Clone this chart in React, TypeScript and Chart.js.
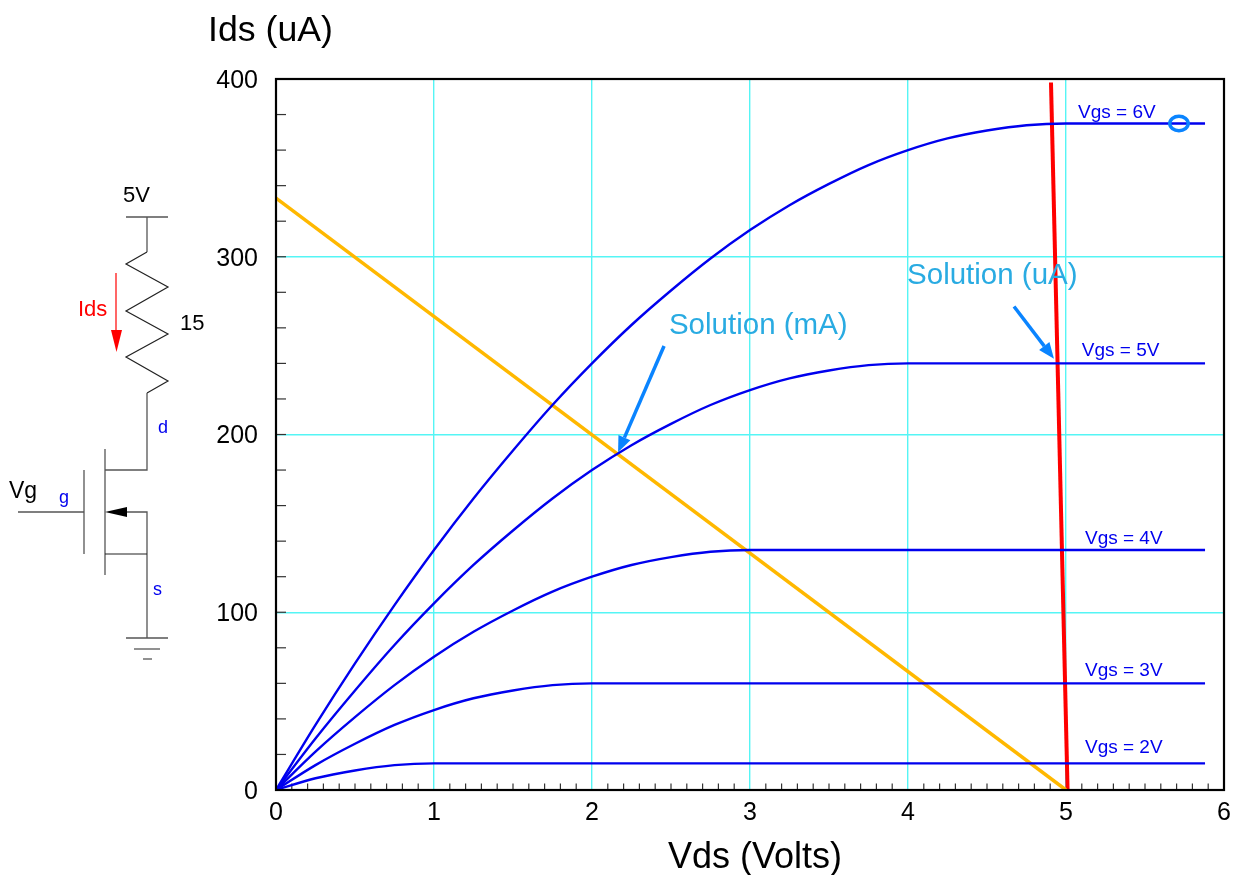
import React, { useEffect, useRef } from "react";
import { Chart, registerables } from "chart.js";

Chart.register(...registerables);

const FONT = '"Liberation Sans", Arial, sans-serif';

// Curves (Vds in volts, Ids in uA)
const vds6 = [0, 0.25, 0.5, 0.75, 1, 1.25, 1.5, 1.75, 2, 2.25, 2.5, 2.75, 3, 3.25, 3.5, 3.75, 4, 4.25, 4.5, 4.75, 5, 5.88];
const ids6 = [0, 36.6, 71.2, 104, 135, 164, 191, 216.6, 240, 261.6, 281, 299, 315, 329, 341, 351.6, 360, 366.6, 371, 374, 375, 375];
const vds5 = [0, 0.25, 0.5, 0.75, 1, 1.25, 1.5, 1.75, 2, 2.25, 2.5, 2.75, 3, 3.25, 3.5, 3.75, 4, 5.88];
const ids5 = [0, 29, 56, 81.6, 105, 126.6, 146, 164, 180, 194, 206, 216.6, 225, 231.6, 236, 239, 240, 240];
const vds4 = [0, 0.25, 0.5, 0.75, 1, 1.25, 1.5, 1.75, 2, 2.25, 2.5, 2.75, 3, 5.88];
const ids4 = [0, 21.6, 41, 59, 75, 89, 101, 111.6, 120, 126.6, 131, 134, 135, 135];
const vds3 = [0, 0.25, 0.5, 0.75, 1, 1.25, 1.5, 1.75, 2, 5.88];
const ids3 = [0, 14, 26, 36.6, 45, 51.6, 56, 59, 60, 60];
const vds2 = [0, 0.25, 0.5, 0.75, 1, 5.88];
const ids2 = [0, 6.6, 11, 14, 15, 15];

// Load lines
const loadMaX = [0, 5];
const loadMaY = [333, 0];
const loadUaX = [4.905, 5.01];
const loadUaY = [398, 0];

// Marker on the Vgs = 6V curve
const markerX = 5.715;
const markerY = 375;

// Annotations, in data units
const curveLabels = ["Vgs = 6V", "Vgs = 5V", "Vgs = 4V", "Vgs = 3V", "Vgs = 2V"];
const curveLabelX = [5.076, 5.1, 5.12, 5.12, 5.12];
const curveLabelY = [378, 244, 138.4, 64, 20.8];
const solutionLabels = ["Solution (mA)", "Solution (uA)"];
const solutionLabelX = [2.487, 3.994];
const solutionLabelY = [256.5, 284.7];
const arrowFromX = [2.456, 4.671];
const arrowFromY = [249.8, 272];
const arrowToX = [2.165, 4.924];
const arrowToY = [190, 242.6];

const xTickMajor = [0, 1, 2, 3, 4, 5, 6];
const yTickMajor = [0, 100, 200, 300, 400];

const zip = (xs: number[], ys: number[]) => xs.map((x, i) => ({ x, y: ys[i] }));
const isIn = (list: number[], v: number) => list.some((m) => Math.abs(m - v) < 1e-6);

const blue = "#0000ee";
const cyan = "#55f5f5";
const sky = "#29abe2";
const arrowBlue = "#0a84ff";

function poly(ctx: CanvasRenderingContext2D, pts: number[][], color = "#555555", width = 1.3) {
  ctx.strokeStyle = color;
  ctx.lineWidth = width;
  ctx.beginPath();
  pts.forEach(([x, y], i) => (i ? ctx.lineTo(x, y) : ctx.moveTo(x, y)));
  ctx.stroke();
}

function fillPoly(ctx: CanvasRenderingContext2D, pts: number[][], color: string) {
  ctx.fillStyle = color;
  ctx.beginPath();
  pts.forEach(([x, y], i) => (i ? ctx.lineTo(x, y) : ctx.moveTo(x, y)));
  ctx.closePath();
  ctx.fill();
}

function text(ctx: CanvasRenderingContext2D, s: string, x: number, y: number, size: number, color = "#000000", align: CanvasTextAlign = "left") {
  ctx.font = `${size}px ${FONT}`;
  ctx.fillStyle = color;
  ctx.textAlign = align;
  ctx.textBaseline = "alphabetic";
  ctx.fillText(s, x, y);
}

const framePlugin = {
  id: "frame",
  beforeDatasetsDraw(chart: any) {
    const { ctx, chartArea: a, scales } = chart;
    ctx.save();
    // inward tick marks
    scales.x.ticks.forEach((t: any) => {
      const px = scales.x.getPixelForValue(t.value);
      if (!isIn(xTickMajor, t.value)) poly(ctx, [[px, a.bottom], [px, a.bottom - 6.5]], "#333333", 1.2);
    });
    scales.y.ticks.forEach((t: any) => {
      const py = scales.y.getPixelForValue(t.value);
      poly(ctx, [[a.left, py], [a.left + 10, py]], "#333333", 1.2);
    });
    ctx.restore();
  },
  afterDatasetsDraw(chart: any) {
    const { ctx, chartArea: a, scales } = chart;
    const X = (v: number) => scales.x.getPixelForValue(v);
    const Y = (v: number) => scales.y.getPixelForValue(v);
    ctx.save();
    ctx.strokeStyle = "#000000";
    ctx.lineWidth = 2.2;
    ctx.strokeRect(a.left, a.top, a.right - a.left, a.bottom - a.top);

    // marker ring
    ctx.strokeStyle = arrowBlue;
    ctx.lineWidth = 3.5;
    ctx.beginPath();
    ctx.ellipse(X(markerX), Y(markerY), 9.2, 7.2, 0, 0, Math.PI * 2);
    ctx.stroke();

    curveLabels.forEach((s, i) => text(ctx, s, X(curveLabelX[i]), Y(curveLabelY[i]), 19, blue));
    solutionLabels.forEach((s, i) => text(ctx, s, X(solutionLabelX[i]), Y(solutionLabelY[i]), 29.5, sky));

    arrowFromX.forEach((_, i) => {
      const x0 = X(arrowFromX[i]), y0 = Y(arrowFromY[i]), x1 = X(arrowToX[i]), y1 = Y(arrowToY[i]);
      const ang = Math.atan2(y1 - y0, x1 - x0);
      const bx = x1 - 16 * Math.cos(ang), by = y1 - 16 * Math.sin(ang);
      poly(ctx, [[x0, y0], [bx, by]], arrowBlue, 3.5);
      fillPoly(ctx, [
        [x1, y1],
        [bx - 6.5 * Math.sin(ang), by + 6.5 * Math.cos(ang)],
        [bx + 6.5 * Math.sin(ang), by - 6.5 * Math.cos(ang)],
      ], arrowBlue);
    });

    // axis titles
    text(ctx, "Ids (uA)", 208, 41, 35.7);
    text(ctx, "Vds (Volts)", 668, 868, 36);

    // circuit schematic
    poly(ctx, [[126, 217], [168, 217]]);
    poly(ctx, [[147, 217], [147, 252]]);
    poly(ctx, [[147, 252], [126, 264], [168, 287], [126, 311], [168, 334], [126, 357], [168, 381], [147, 393]], "#222222", 1.2);
    poly(ctx, [[147, 393], [147, 470], [105, 470]]);
    poly(ctx, [[105, 449], [105, 575]]);
    poly(ctx, [[84, 470], [84, 554]]);
    poly(ctx, [[18, 512], [84, 512]]);
    poly(ctx, [[127, 512], [147, 512], [147, 638]]);
    poly(ctx, [[105, 554], [147, 554]], "#222222", 1.2);
    fillPoly(ctx, [[105, 512], [127, 507], [127, 517]], "#000000");
    poly(ctx, [[126, 638], [168, 638]]);
    poly(ctx, [[134, 649], [160, 649]]);
    poly(ctx, [[143, 659], [152, 659]]);
    poly(ctx, [[116, 273], [116, 332]], "#ff0000", 1.2);
    fillPoly(ctx, [[111, 330], [122, 330], [116.5, 352]], "#ff0000");
    text(ctx, "5V", 123, 202, 22);
    text(ctx, "15", 180, 330, 22);
    text(ctx, "Ids", 78, 316, 22, "#ff0000");
    text(ctx, "Vg", 9, 498, 23);
    text(ctx, "d", 158, 433, 18, blue);
    text(ctx, "g", 59, 503, 18, blue);
    text(ctx, "s", 153, 595, 18, blue);
    ctx.restore();
  },
};

export default function App() {
  const ref = useRef<HTMLCanvasElement | null>(null);
  useEffect(() => {
    const curve = (xs: number[], ys: number[], label: string) => ({
      label,
      data: zip(xs, ys),
      borderColor: blue,
      borderWidth: 2.4,
      pointRadius: 0,
      cubicInterpolationMode: "monotone" as const,
    });
    const chart = new Chart(ref.current as HTMLCanvasElement, {
      type: "line",
      data: {
        datasets: [
          curve(vds6, ids6, curveLabels[0]),
          curve(vds5, ids5, curveLabels[1]),
          curve(vds4, ids4, curveLabels[2]),
          curve(vds3, ids3, curveLabels[3]),
          curve(vds2, ids2, curveLabels[4]),
          { label: "Load line (mA)", data: zip(loadMaX, loadMaY), borderColor: "#ffb800", borderWidth: 3.5, pointRadius: 0 },
          { label: "Load line (uA)", data: zip(loadUaX, loadUaY), borderColor: "#ff0000", borderWidth: 4, pointRadius: 0 },
        ],
      },
      options: {
        responsive: false,
        animation: false,
        layout: { padding: { left: 0, top: 79, right: 9, bottom: 0 } },
        plugins: { legend: { display: false }, title: { display: false }, tooltip: { enabled: false } },
        scales: {
          x: {
            type: "linear",
            min: 0,
            max: 6,
            afterFit: (s: any) => { s.height = 85; s.paddingRight = 0; s.paddingLeft = 0; },
            border: { display: false },
            grid: {
              drawTicks: false,
              color: (c: any) => (isIn(xTickMajor, c.tick?.value) ? cyan : "rgba(0,0,0,0)"),
              lineWidth: 1.4,
            },
            ticks: {
              stepSize: 0.1,
              autoSkip: false,
              maxRotation: 0,
              padding: 8,
              color: "#000000",
              font: { family: FONT, size: 25 },
              callback: (v: any) => (isIn(xTickMajor, Number(v)) ? String(Math.round(Number(v))) : ""),
            },
          },
          y: {
            type: "linear",
            min: 0,
            max: 400,
            afterFit: (s: any) => { s.width = 276; },
            border: { display: false },
            grid: {
              drawTicks: false,
              color: (c: any) => (isIn(yTickMajor, c.tick?.value) ? cyan : "rgba(0,0,0,0)"),
              lineWidth: 1.4,
            },
            ticks: {
              stepSize: 20,
              autoSkip: false,
              padding: 18,
              color: "#000000",
              // an empty first line with a small line height nudges the digits down to the tick
              font: { family: FONT, size: 25, lineHeight: "4px" },
              callback: (v: any) => (isIn(yTickMajor, Number(v)) ? ["", String(Math.round(Number(v)))] : ""),
            },
          },
        },
      },
      plugins: [framePlugin],
    } as any);
    return () => chart.destroy();
  }, []);
  return (
    <div style={{ position: "absolute", left: 0, top: 0, width: 1233, height: 875, background: "#ffffff", overflow: "hidden" }}>
      <canvas ref={ref} width={1233} height={875} style={{ display: "block" }} />
    </div>
  );
}
